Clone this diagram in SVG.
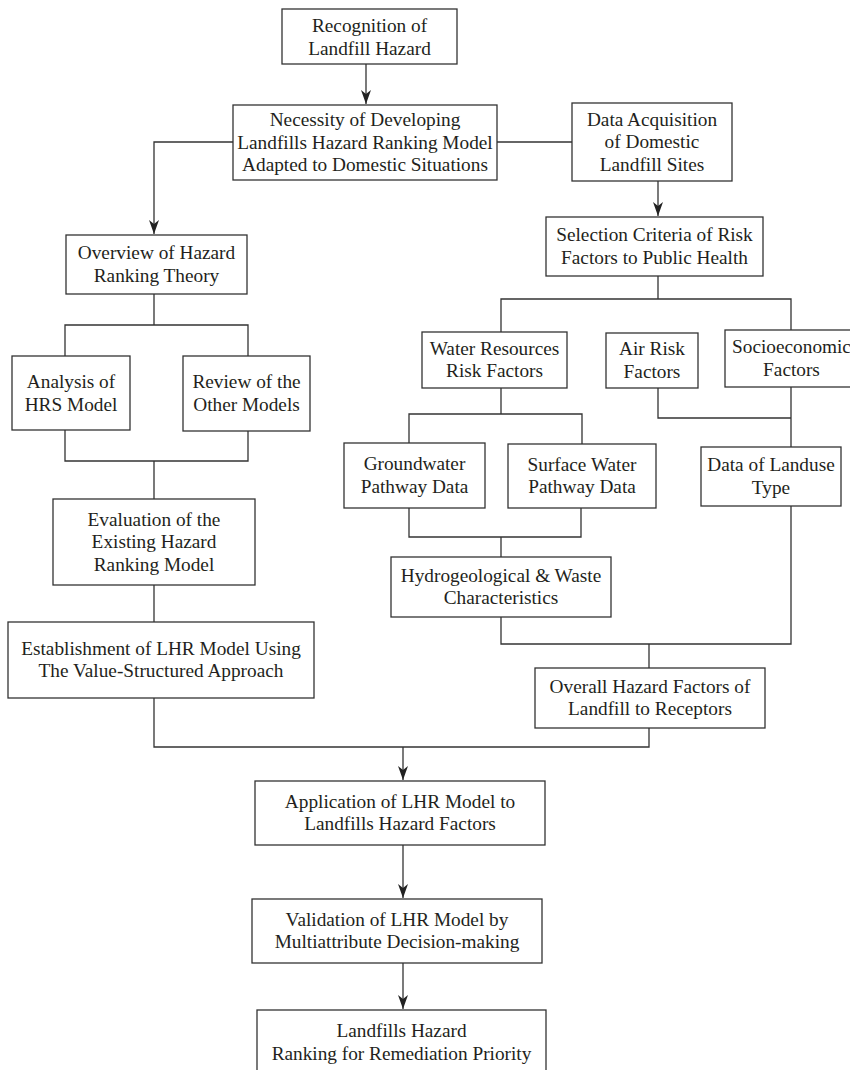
<svg xmlns="http://www.w3.org/2000/svg" width="850" height="1070" viewBox="0 0 850 1070">
<defs>
<style>
.box rect{fill:#fff;stroke:#333;stroke-width:1.3}
.box text{font-family:"Liberation Serif","Times New Roman",serif;font-size:19.3px;fill:#231f20;text-anchor:middle}
.conn path{fill:none;stroke:#333;stroke-width:1.3}
</style>
<marker id="ah" markerWidth="14" markerHeight="10" refX="14" refY="5" orient="auto" markerUnits="userSpaceOnUse" viewBox="0 0 14 10">
<path d="M0,0 L14,5 L0,10 L4,5 Z" fill="#222"/>
</marker>
</defs>
<rect width="850" height="1070" fill="#fff"/>
<g class="conn">
<path d="M366,64 V104" marker-end="url(#ah)"/>
<path d="M233,142 H154 V234" marker-end="url(#ah)"/>
<path d="M497,142 H572"/>
<path d="M658,181 V216" marker-end="url(#ah)"/>
<path d="M154,294 V325 M65,356 V325 H248 V356"/>
<path d="M65,430 V461 H248 V431 M154,461 V499"/>
<path d="M154,585 V622"/>
<path d="M154,698 V747 H649 V728"/>
<path d="M403,747 V780" marker-end="url(#ah)"/>
<path d="M658,276 V299 M501,332 V299 H791 V330"/>
<path d="M501,388 V414 M409,443 V414 H582 V444"/>
<path d="M658,388 V418 H791 M791,387 V447"/>
<path d="M409,508 V537 H581 V508 M501,537 V557"/>
<path d="M501,617 V644 H791 V506 M649,644 V668"/>
<path d="M403,845 V898" marker-end="url(#ah)"/>
<path d="M403,963 V1009" marker-end="url(#ah)"/>
</g>
<g id="recognition" class="box"><rect x="282" y="9" width="175" height="55"/><text x="369.5" y="31.5">Recognition of</text><text x="369.5" y="54.5">Landfill Hazard</text></g>
<g id="necessity" class="box"><rect x="233" y="105" width="264" height="75"/><text x="365" y="126">Necessity of Developing</text><text x="365" y="148.5">Landfills Hazard Ranking Model</text><text x="365" y="171">Adapted to Domestic Situations</text></g>
<g id="data-acquisition" class="box"><rect x="572" y="103" width="160" height="78"/><text x="652" y="125.5">Data Acquisition</text><text x="652" y="148">of Domestic</text><text x="652" y="170.5">Landfill Sites</text></g>
<g id="overview" class="box"><rect x="66" y="235" width="181" height="59"/><text x="156.5" y="259">Overview of Hazard</text><text x="156.5" y="282">Ranking Theory</text></g>
<g id="analysis" class="box"><rect x="12" y="356" width="118" height="74"/><text x="71" y="388">Analysis of</text><text x="71" y="411">HRS Model</text></g>
<g id="review" class="box"><rect x="183" y="356" width="127" height="75"/><text x="246.5" y="388">Review of the</text><text x="246.5" y="411">Other Models</text></g>
<g id="evaluation" class="box"><rect x="53" y="499" width="202" height="86"/><text x="154" y="525.5">Evaluation of the</text><text x="154" y="548">Existing Hazard</text><text x="154" y="570.5">Ranking Model</text></g>
<g id="establishment" class="box"><rect x="8" y="622" width="306" height="76"/><text x="161" y="654.5">Establishment of LHR Model Using</text><text x="161" y="677">The Value-Structured Approach</text></g>
<g id="selection" class="box"><rect x="546" y="217" width="217" height="59"/><text x="654.5" y="241">Selection Criteria of Risk</text><text x="654.5" y="264">Factors to Public Health</text></g>
<g id="water" class="box"><rect x="422" y="332" width="145" height="56"/><text x="494.5" y="354.5">Water Resources</text><text x="494.5" y="377">Risk Factors</text></g>
<g id="air" class="box"><rect x="606" y="333" width="92" height="55"/><text x="652" y="355">Air Risk</text><text x="652" y="377.5">Factors</text></g>
<g id="socioeconomic" class="box"><rect x="725" y="330" width="133" height="57"/><text x="791.5" y="353">Socioeconomic</text><text x="791.5" y="375.5">Factors</text></g>
<g id="groundwater" class="box"><rect x="344" y="443" width="141" height="65"/><text x="414.5" y="470">Groundwater</text><text x="414.5" y="492.5">Pathway Data</text></g>
<g id="surface" class="box"><rect x="508" y="444" width="148" height="64"/><text x="582" y="470.5">Surface Water</text><text x="582" y="493">Pathway Data</text></g>
<g id="landuse" class="box"><rect x="701" y="447" width="140" height="59"/><text x="771" y="471">Data of Landuse</text><text x="771" y="493.5">Type</text></g>
<g id="hydro" class="box"><rect x="391" y="557" width="220" height="60"/><text x="501" y="581.5">Hydrogeological &amp; Waste</text><text x="501" y="604">Characteristics</text></g>
<g id="overall" class="box"><rect x="535" y="668" width="230" height="60"/><text x="650" y="692.5">Overall Hazard Factors of</text><text x="650" y="715">Landfill to Receptors</text></g>
<g id="application" class="box"><rect x="255" y="781" width="290" height="64"/><text x="400" y="807.5">Application of LHR Model to</text><text x="400" y="830">Landfills Hazard Factors</text></g>
<g id="validation" class="box"><rect x="252" y="899" width="290" height="64"/><text x="397" y="925.5">Validation of LHR Model by</text><text x="397" y="948">Multiattribute Decision-making</text></g>
<g id="landfills" class="box"><rect x="257" y="1010" width="289" height="70"/><text x="401.5" y="1037">Landfills Hazard</text><text x="401.5" y="1060">Ranking for Remediation Priority</text></g>
</svg>
